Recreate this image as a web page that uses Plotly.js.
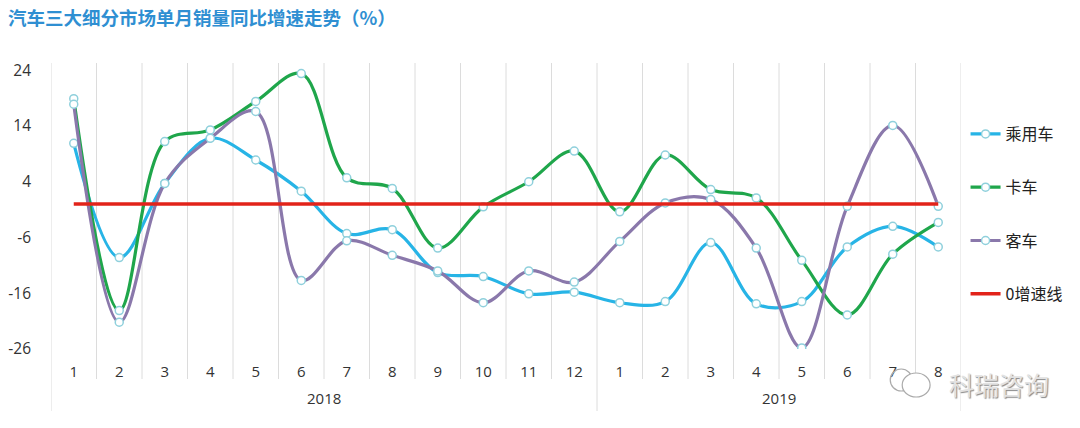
<!DOCTYPE html>
<html>
<head>
<meta charset="utf-8">
<script src="https://cdn.plot.ly/plotly-3.0.1.min.js"></script>
<style>html,body{margin:0;padding:0;background:#fff;}#chart{width:1080px;height:428px;}</style>
</head>
<body>
<div id="chart"></div>
<script>
// ---- data ----
const monthLabels = ['1','2','3','4','5','6','7','8','9','10','11','12','1','2','3','4','5','6','7','8'];
const yearLabels = ['2018','2019'];
const yearCenters = [6.5, 16.5];
const passenger = [10.9, -9.6, 3.7, 11.8, 7.9, 2.3, -5.3, -4.6, -12.3, -13.0, -16.1, -15.8, -17.7, -17.5, -6.9, -17.9, -17.5, -7.7, -4.0, -7.7];
const truck     = [18.9, -19.1, 11.2, 13.3, 18.4, 23.4, 4.7, 2.8, -7.9, -0.5, 4.0, 9.5, -1.4, 8.8, 2.6, 1.1, -10.1, -19.9, -9.0, -3.3];
const bus       = [17.9, -21.2, 3.7, 11.8, 16.6, -13.7, -6.6, -9.2, -12.0, -17.7, -12.0, -14.0, -6.7, 0.2, 0.8, -7.9, -25.8, -0.4, 14.1, -0.4];
const zeroLine  = [0,0,0,0,0,0,0,0,0,0,0,0,0,0,0,0,0,0,0,0];
const seriesNames = ['乘用车','卡车','客车','0增速线'];
const yTicks = [-26,-16,-6,4,14,24];

const xs = monthLabels.map((_, i) => i + 1);
const FONT = 'Open Sans, Noto Sans CJK SC, sans-serif';
const CJK = 'Noto Sans CJK SC, sans-serif';
const mk = {symbol:'circle', size:8, color:'#ffffff', line:{color:'#8fd0dc', width:1.5}};

function lineTrace(y, name, color, group){
  return {x: xs, y: y, name: name, type:'scatter', mode:'lines+markers',
    line:{color:color, width:3.2, shape:'spline', smoothing:1},
    marker: mk, legendgroup: group, hoverinfo:'skip'};
}
const traces = [
  lineTrace(passenger, seriesNames[0], '#27b4e6', 'a'),
  lineTrace(truck, seriesNames[1], '#1fa64b', 'b'),
  lineTrace(bus, seriesNames[2], '#8a78ab', 'c'),
  {x: xs, y: zeroLine, name: seriesNames[3], type:'scatter', mode:'lines',
   line:{color:'#e2231a', width:3.5}, legendgroup:'d', hoverinfo:'skip'}
];

const L = 51, R = 964, T = 63, B = 349;
const ph = B - T;
const py = p => (B - p) / ph;
const px = p => (p - L) / (R - L);

const shapes = [];
for (let k = 0; k <= monthLabels.length; k++) {
  const long = (k === 0 || k === 12 || k === monthLabels.length);
  shapes.push({type:'line', xref:'x', yref:'paper', x0:k+0.5, x1:k+0.5,
    y0: long ? py(411) : py(379), y1: 1, line:{color:'#dcdcdc', width:1}, layer:'below'});
}
// watermark icon (two chat bubbles)
shapes.push({type:'circle', xref:'paper', yref:'paper', x0:px(893), x1:px(915), y0:py(391), y1:py(369), line:{color:'#aaaaaa', width:1.2}, layer:'above'});
shapes.push({type:'circle', xref:'paper', yref:'paper', x0:px(905), x1:px(933), y0:py(397), y1:py(373), fillcolor:'#ffffff', line:{color:'#aaaaaa', width:1.2}, layer:'above'});

const annotations = yearLabels.map((t, i) => ({
  text: t, xref:'x', yref:'paper', x: yearCenters[i], y: py(398), showarrow:false,
  font:{family:FONT, size:15, color:'#333'}, xanchor:'center', yanchor:'middle'}));
annotations.push({text:'科瑞咨询', xref:'paper', yref:'paper', x: px(950), y: py(384), xanchor:'left', yanchor:'middle',
  showarrow:false, font:{family:CJK, size:25, color:'#e2e2e2', shadow:'1px 1px 1px #888'}});

const layout = {
  width:1080, height:428,
  margin:{l:L, r:1080-R, t:T, b:428-B, pad:0},
  paper_bgcolor:'#ffffff', plot_bgcolor:'#ffffff',
  title:{text:'<b>汽车三大细分市场单月销量同比增速走势（%）</b>', xref:'container', yref:'container',
    x: 8/1080, xanchor:'left', y: 1 - 19/428, yanchor:'middle',
    font:{family:CJK, size:18.5, color:'#2f8fd2'}},
  xaxis:{range:[0.5, monthLabels.length + 0.5], tickvals: xs, ticktext: monthLabels,
    showgrid:false, zeroline:false, showline:false, ticks:'', ticklabelstandoff:12,
    tickfont:{family:FONT, size:15, color:'#333'}, fixedrange:true},
  yaxis:{range:[-26, 25.3], tickvals:yTicks, ticktext:yTicks.map(String),
    showgrid:false, zeroline:false, showline:false, ticks:'', ticklabelstandoff:19,
    tickfont:{family:FONT, size:15.5, color:'#333'}, fixedrange:true},
  legend:{x:1.005, xanchor:'left', y:py(117), yanchor:'top', font:{family:CJK, size:16, color:'#222'},
    tracegroupgap:29.5, itemwidth:30, bgcolor:'rgba(0,0,0,0)'},
  showlegend:true,
  shapes: shapes,
  annotations: annotations
};

Plotly.newPlot('chart', traces, layout, {displayModeBar:false, staticPlot:true});
</script>
</body>
</html>
